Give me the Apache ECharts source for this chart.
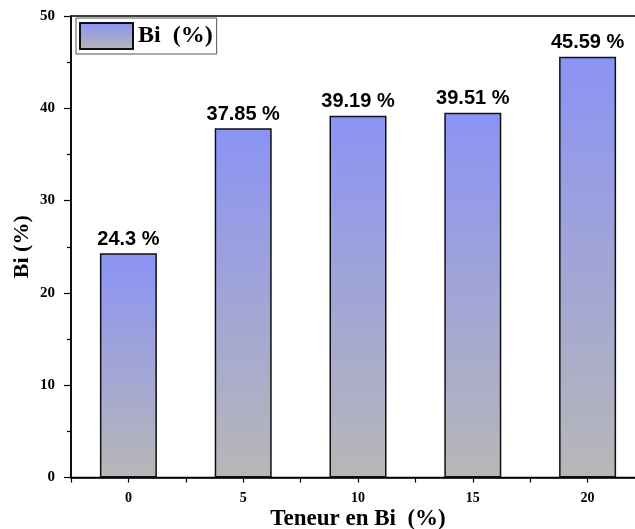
<!DOCTYPE html>
<html>
<head>
<meta charset="utf-8">
<script src="https://cdn.jsdelivr.net/npm/echarts@6/dist/echarts.min.js"></script>
<style>html,body{margin:0;padding:0;background:#fff}#c{width:635px;height:529px}</style>
</head>
<body>
<div id="c"></div>
<script>
var categories = [0, 5, 10, 15, 20];
var values = [24.3, 37.85, 39.19, 39.51, 45.59];
var seriesName = 'Bi  (%)';
var xName = 'Teneur en Bi  (%)';
var yName = 'Bi (%)';

var chart = echarts.init(document.getElementById('c'));
var grad = new echarts.graphic.LinearGradient(0, 0, 0, 1, [
  {offset: 0, color: '#8b93f5'},
  {offset: 1, color: '#b7b7b7'}
]);
chart.setOption({
  animation: false,
  grid: {left: 71, width: 574, top: 16, height: 461.5, outerBoundsMode: 'none', containLabel: false,
    show: true, borderColor: '#000', borderWidth: 1.5, backgroundColor: 'transparent'},
  legend: {
    left: 76, top: 18, padding: [4, 4, 4, 3], itemWidth: 53, itemHeight: 26, itemGap: 6,
    borderColor: '#555', borderWidth: 1,
    icon: 'rect',
    textStyle: {fontFamily: 'Liberation Serif', fontWeight: 'bold', fontSize: 24, color: '#000'},
    data: [seriesName]
  },
  xAxis: {
    type: 'value', min: -2.5, max: 22.5, interval: 2.5,
    name: xName, nameLocation: 'middle', nameGap: 30, nameMoveOverlap: false,
    nameTextStyle: {fontFamily: 'Liberation Serif', fontWeight: 'bold', fontSize: 23, color: '#000'},
    axisLine: {onZero: false, lineStyle: {color: '#000', width: 1.5}},
    axisTick: {show: true, inside: false, length: 5, lineStyle: {color: '#000', width: 1.2}},
    axisLabel: {margin: 14, fontFamily: 'Liberation Serif', fontWeight: 'bold', fontSize: 14, color: '#000',
      formatter: function (v) { return categories.indexOf(v) >= 0 ? String(v) : ''; }},
    splitLine: {show: false}
  },
  yAxis: {
    type: 'value', min: 0, max: 50, interval: 10,
    name: yName, nameLocation: 'middle', nameGap: 38, nameMoveOverlap: false,
    nameTextStyle: {fontFamily: 'Liberation Serif', fontWeight: 'bold', fontSize: 22, color: '#000'},
    axisLine: {show: true, onZero: false, lineStyle: {color: '#000', width: 1.5}},
    axisTick: {show: true, inside: false, length: 7, lineStyle: {color: '#000', width: 1.2}},
    minorTick: {show: true, splitNumber: 2, length: 4, lineStyle: {color: '#000', width: 1.2}},
    axisLabel: {margin: 16, fontFamily: 'Liberation Serif', fontWeight: 'bold', fontSize: 15, color: '#000'},
    splitLine: {show: false}
  },
  series: [{
    name: seriesName,
    type: 'bar',
    barWidth: 57,
    data: categories.map(function (c, i) { return [c, values[i]]; }),
    itemStyle: {color: grad, borderColor: '#111', borderWidth: 1.5},
    label: {
      show: true, position: 'top', distance: 4,
      fontFamily: 'Liberation Sans', fontWeight: 'bold', fontSize: 20, color: '#000',
      formatter: function (p) { return p.value[1] + ' %'; }
    }
  }]
});
</script>
</body>
</html>
